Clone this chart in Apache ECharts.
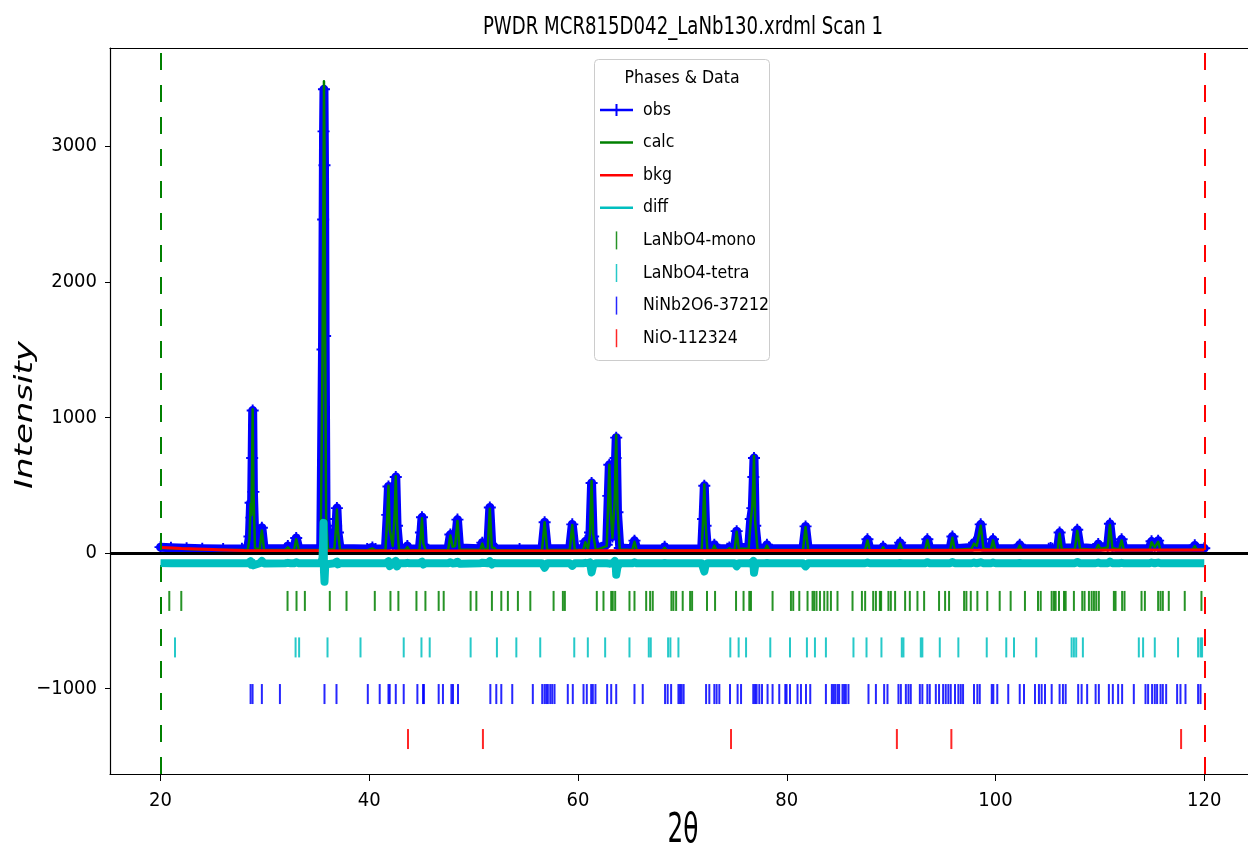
<!DOCTYPE html>
<html>
<head>
<meta charset="utf-8">
<script src="https://cdn.jsdelivr.net/npm/echarts@6/dist/echarts.min.js"></script>
<style>
  html, body { margin: 0; padding: 0; background: #fff; }
  #chart { width: 1248px; height: 850px; }
</style>
</head>
<body>
<div id="chart"></div>
<script>
// Powder pattern: 2-theta grid with observed, calculated and difference intensities
const twoTheta = [
  20.0, 21.0, 22.5, 24.0, 26.0, 27.8, 28.35, 28.52, 28.63, 28.71, 28.78, 28.83, 28.90, 29.05, 29.50, 29.71, 29.92,
  31.95, 32.20, 32.45, 32.80, 33.00, 33.25, 35.35, 35.52, 35.58, 35.62, 35.66, 35.71, 35.77, 35.86, 36.05,
  36.65, 36.82, 36.90, 37.00, 37.20,
  39.80, 40.30, 40.60, 41.55, 41.72, 41.84, 41.96, 42.25, 42.44, 42.54, 42.66, 42.85, 43.45, 43.65, 43.85,
  44.80, 44.95, 45.05, 45.18, 45.40, 47.55, 47.77, 47.98, 48.22, 48.45, 48.65, 50.62, 50.83, 51.02,
  51.35, 51.55, 51.74, 51.95, 52.15, 54.40, 56.55, 56.80, 57.05,
  59.20, 59.45, 59.70, 60.50, 60.70, 60.95, 61.15, 61.30, 61.45, 61.70, 62.75, 62.90, 63.00, 63.14, 63.30,
  63.52, 63.60, 63.66, 63.78, 64.00, 65.20, 65.41, 65.62, 68.10, 68.30, 68.50,
  71.85, 71.98, 72.10, 72.22, 72.40, 72.88, 73.06, 73.25, 74.30, 74.50, 74.70, 75.00, 75.20, 75.40,
  76.35, 76.55, 76.70, 76.80, 76.86, 76.98, 77.20, 77.90, 78.10, 78.30, 81.55, 81.80, 82.05,
  87.50, 87.73, 87.95, 89.05, 89.23, 89.40, 90.65, 90.86, 91.10, 93.25, 93.47, 93.70, 95.65, 95.87, 96.10,
  97.70, 97.94, 98.20, 98.58, 98.85, 99.55, 99.76, 100.00, 102.10, 102.32, 102.55, 105.10, 105.28, 105.45,
  105.95, 106.14, 106.35, 107.60, 107.83, 108.10, 109.60, 109.84, 110.05, 110.75, 110.96, 111.20,
  111.85, 112.08, 112.30, 114.75, 114.95, 115.25, 115.58, 115.80, 118.85, 119.09, 119.30, 120.00
];
const yObs = [
  42, 38, 33, 30, 28, 30, 34, 120, 370, 260, 700, 1050, 450, 45, 35, 185, 32,
  30, 50, 30, 32, 110, 30, 32, 1500, 2460, 3110, 3420, 2860, 1600, 250, 35,
  35, 200, 330, 150, 32,
  28, 40, 28, 30, 280, 490, 150, 60, 320, 560, 200, 30, 30, 50, 28,
  30, 150, 262, 60, 28, 30, 135, 50, 60, 245, 35, 30, 75, 30,
  40, 335, 45, 45, 30, 28, 30, 225, 30,
  30, 210, 30, 30, 85, 35, 150, 515, 120, 30, 60, 420, 650, 280, 120,
  420, 700, 850, 300, 35, 30, 90, 30, 28, 45, 28,
  30, 250, 495, 200, 30, 30, 60, 30, 30, 40, 30, 35, 160, 40,
  40, 250, 330, 560, 700, 200, 35, 30, 60, 30, 30, 195, 30,
  30, 100, 30, 28, 45, 28, 30, 75, 30, 30, 100, 30, 30, 120, 30,
  40, 75, 60, 210, 40, 30, 100, 30, 30, 60, 30, 30, 35, 30,
  30, 150, 35, 35, 170, 40, 30, 65, 40, 50, 215, 45,
  35, 100, 30, 30, 85, 50, 90, 30, 30, 55, 32, 34
];
const yCalc = [
  38, 34, 29, 25, 21, 20, 22, 100, 360, 280, 690, 1060, 470, 35, 25, 165, 22,
  20, 40, 20, 22, 100, 20, 22, 1450, 2300, 2810, 3480, 2990, 1640, 260, 25,
  25, 190, 320, 160, 22,
  18, 32, 18, 20, 260, 495, 170, 50, 300, 565, 215, 20, 20, 42, 18,
  20, 140, 255, 70, 18, 20, 128, 45, 50, 235, 25, 20, 68, 20,
  30, 325, 40, 38, 20, 18, 20, 225, 20,
  20, 205, 20, 20, 78, 25, 140, 530, 140, 20, 50, 400, 650, 300, 110,
  400, 690, 870, 330, 25, 20, 82, 20, 18, 38, 18,
  20, 240, 505, 215, 20, 20, 53, 20, 20, 35, 22, 25, 155, 30,
  30, 240, 345, 540, 715, 225, 25, 20, 53, 20, 20, 190, 20,
  20, 92, 20, 18, 40, 18, 20, 68, 20, 20, 94, 20, 20, 112, 20,
  30, 68, 50, 200, 30, 22, 92, 20, 20, 54, 20, 20, 30, 20,
  20, 140, 25, 25, 162, 30, 20, 58, 30, 40, 205, 35,
  25, 92, 20, 20, 78, 40, 82, 20, 20, 50, 22, 24
];
const yDiff = [
  -76, -77, -77, -77, -77, -77, -77, -72, -62, -88, -70, -58, -92, -80, -77, -60, -78,
  -77, -74, -77, -77, -70, -77, -77, -40, 80, 221, -137, -214, -110, -85, -77,
  -77, -70, -65, -85, -77,
  -77, -76, -77, -77, -80, -62, -98, -77, -68, -60, -100, -77, -77, -74, -77,
  -77, -70, -66, -86, -77, -77, -70, -78, -77, -66, -80, -77, -73, -77,
  -77, -62, -86, -75, -77, -77, -77, -110, -77,
  -77, -96, -77, -77, -74, -77, -70, -145, -92, -77, -77, -70, -80, -92, -77,
  -60, -80, -162, -105, -77, -77, -70, -77, -77, -75, -77,
  -77, -70, -138, -92, -77, -77, -74, -77, -77, -77, -77, -77, -100, -77,
  -77, -80, -77, -60, -147, -92, -77, -77, -75, -77, -77, -100, -77,
  -77, -72, -77, -77, -77, -77, -77, -75, -77, -77, -70, -77, -77, -68, -77,
  -77, -72, -77, -70, -77, -77, -72, -77, -77, -75, -77, -77, -77, -77,
  -77, -72, -77, -77, -68, -77, -77, -72, -77, -77, -65, -77,
  -77, -74, -77, -77, -72, -77, -72, -77, -77, -77, -77, -77
];

// Background curve
const bkgTheta = [20, 22, 25, 28, 35, 40, 60, 80, 100, 120];
const yBkg = [40, 32, 24, 18, 15, 14, 15, 17, 19, 20];

// Reflection positions (2-theta) for each phase
const phaseNames = ['LaNbO4-mono', 'LaNbO4-tetra', 'NiNb2O6-37212', 'NiO-112324'];
const monoRefl = [
  20.84, 21.99, 32.17, 33.03, 33.83, 36.22, 37.82, 40.53, 42.03, 42.79, 44.52, 45.38, 46.65, 47.13, 49.71,
  50.26, 51.75, 52.65, 53.28, 54.24, 55.43, 57.66, 58.55, 58.74, 61.80, 62.44, 63.18, 63.33, 63.56, 64.93,
  65.41, 66.53, 66.91, 67.16, 68.95, 69.14, 69.40, 70.03, 70.74, 70.93, 72.36, 73.13, 75.14, 75.86, 76.41,
  76.57, 78.64, 80.40, 80.62, 81.20, 81.99, 82.47, 82.63, 82.85, 83.18, 83.59, 83.90, 84.23, 84.86, 86.30,
  87.20, 87.51, 88.28, 88.54, 88.92, 89.04, 89.74, 89.97, 90.38, 91.34, 91.79, 92.52, 93.16, 94.59, 95.17,
  95.55, 96.99, 97.21, 97.63, 98.26, 99.21, 100.40, 101.45, 102.82, 104.07, 104.33, 105.38, 105.60, 105.76,
  106.08, 106.56, 106.72, 107.51, 108.31, 108.53, 108.95, 109.21, 109.43, 109.65, 109.90, 111.34, 111.50,
  112.13, 112.36, 113.99, 114.31, 115.58, 115.81, 116.03, 116.60, 118.13, 119.73
];
const tetraRefl = [
  21.39, 32.94, 33.28, 36.00, 39.16, 43.30, 45.00, 45.79, 49.71, 52.23, 54.09, 56.38, 59.64, 60.94, 62.60,
  64.93, 66.78, 66.97, 68.63, 68.85, 69.62, 74.59, 75.39, 76.10, 78.42, 80.31, 81.93, 82.70, 83.75, 86.39,
  87.64, 89.07, 91.02, 91.18, 92.84, 92.99, 94.66, 96.44, 99.16, 101.03, 101.77, 103.90, 107.29, 107.51,
  107.73, 108.37, 113.73, 114.14, 115.26, 117.49, 119.41, 119.64, 119.79
];
const ninbRefl = [
  28.63, 28.82, 29.71, 31.44, 35.71, 36.86, 39.86, 41.00, 41.84, 41.96, 42.54, 43.30, 44.61, 45.15, 45.24,
  46.65, 47.06, 47.87, 48.02, 48.50, 51.60, 52.17, 52.65, 53.70, 55.67, 56.57, 56.79, 56.96, 57.11, 57.34,
  57.53, 57.75, 59.02, 59.50, 60.53, 60.84, 61.26, 61.42, 61.67, 62.79, 63.18, 63.66, 65.41, 66.20, 68.34,
  68.59, 68.92, 69.62, 69.78, 69.93, 70.12, 72.27, 72.58, 73.06, 73.28, 73.54, 74.56, 75.29, 75.62, 76.79,
  76.96, 77.11, 77.37, 77.63, 78.16, 78.64, 79.28, 79.86, 79.98, 80.31, 81.03, 81.36, 81.84, 82.25, 83.75,
  84.32, 84.48, 84.64, 84.86, 85.02, 85.34, 85.50, 85.66, 85.91, 87.83, 88.54, 89.33, 89.65, 90.70, 90.93,
  91.41, 91.66, 91.88, 92.75, 92.99, 93.47, 93.70, 94.28, 94.59, 94.98, 95.23, 95.48, 95.71, 96.12, 96.44,
  96.67, 96.89, 97.94, 98.26, 98.49, 99.64, 99.79, 100.17, 101.22, 102.32, 102.73, 103.78, 104.16, 104.42,
  104.74, 105.38, 106.14, 106.46, 106.72, 107.92, 108.25, 108.78, 109.59, 109.90, 110.86, 111.24, 111.75,
  112.13, 113.25, 114.37, 114.62, 115.00, 115.26, 115.48, 115.81, 116.03, 116.35, 117.40, 117.72, 118.20,
  119.41, 119.64
];
const nioRefl = [43.71, 50.89, 74.66, 90.55, 95.77, 117.78];
const phaseRefl = [monoRefl, tetraRefl, ninbRefl, nioRefl];
// Intensity level at which each phase's tick row is drawn
const phaseRowLevel = [-355, -698, -1042, -1374];

// Excluded-region limits and axis ticks
const limitLines = [20, 120];
const xRange = [15.16, 124.19];
const yRange = [-1632, 3725];
const xTickValues = [20, 40, 60, 80, 100, 120];
const yTickValues = [-1000, 0, 1000, 2000, 3000];

const narrow = "'DejaVu Sans Condensed', 'Liberation Sans Narrow', 'DejaVu Sans', sans-serif";
const colors = { obs: '#0000ff', calc: '#008000', bkg: '#ff0000', diff: '#00bfbf' };
const phaseColors = ['#008000', '#00bfbf', '#0000ff', '#ff0000'];

const plusSymbol = 'path://M4.2,0H5.8V4.2H10V5.8H5.8V10H4.2V5.8H0V4.2H4.2Z';
const barIcon = 'path://M0,0M33,18M0,7.75H33V10.25H0Z';
const obsIcon = 'path://M0,0M33,18M0,7.75H33V10.25H0Z M15.5,3H17.5V15H15.5Z';
const tickIcon = 'path://M0,0M33,18M15.75,0H17.25V18H15.75Z';

const pairs = (xs, ys) => xs.map((x, i) => [x, ys[i]]);

const series = [
  {
    name: 'obs', type: 'line', data: pairs(twoTheta, yObs), z: 2,
    color: colors.obs,
    symbol: plusSymbol, symbolSize: 12, showSymbol: true,
    itemStyle: { color: colors.obs },
    lineStyle: { color: colors.obs, width: 9, join: 'round', cap: 'round' },
    animation: false, silent: true
  },
  {
    name: 'calc', type: 'line', data: pairs(twoTheta, yCalc), z: 3,
    color: colors.calc, symbol: 'none',
    lineStyle: { color: colors.calc, width: 2.5, join: 'round' },
    animation: false, silent: true
  },
  {
    name: 'bkg', type: 'line', data: pairs(bkgTheta, yBkg), z: 4,
    color: colors.bkg, symbol: 'none', smooth: 0.3,
    lineStyle: { color: colors.bkg, width: 3 },
    animation: false, silent: true,
    markLine: {
      silent: true, symbol: 'none', label: { show: false }, animation: false,
      lineStyle: { color: '#000', width: 3, type: 'solid' },
      data: [{ yAxis: 0 }]
    }
  },
  {
    name: 'diff', type: 'line', data: pairs(twoTheta, yDiff), z: 5,
    color: colors.diff, symbol: 'none',
    lineStyle: { color: colors.diff, width: 8, join: 'round' },
    animation: false, silent: true,
    markLine: {
      silent: true, symbol: 'none', label: { show: false }, animation: false,
      data: limitLines.map((x, i) => ({
        xAxis: x,
        lineStyle: { color: i === 0 ? '#008000' : '#ff0000', width: 2, type: [17, 15] }
      }))
    }
  }
];

phaseNames.forEach((name, i) => {
  series.push({
    name, type: 'scatter', z: 6,
    data: phaseRefl[i].map(t => [t, phaseRowLevel[i]]),
    symbol: 'rect', symbolSize: [2, 20],
    color: phaseColors[i],
    itemStyle: { color: phaseColors[i], opacity: 0.85 },
    animation: false, silent: true
  });
});

const chart = echarts.init(document.getElementById('chart'), null, { renderer: 'canvas' });

const option = {
  animation: false,
  backgroundColor: '#fff',
  textStyle: { fontFamily: narrow },
  grid: { left: 110, right: 0, top: 48, bottom: 76, containLabel: false },
  xAxis: [
    {
      type: 'value', min: xRange[0], max: xRange[1], position: 'bottom',
      axisLine: { show: true, onZero: false, lineStyle: { color: '#000', width: 1.2 } },
      axisTick: { show: true, length: 7, customValues: xTickValues, lineStyle: { color: '#000', width: 1 } },
      axisLabel: { customValues: xTickValues, margin: 17, fontSize: 20, fontFamily: narrow, color: '#000' },
      splitLine: { show: false }
    },
    {
      type: 'value', min: xRange[0], max: xRange[1], position: 'top',
      axisLine: { show: true, onZero: false, lineStyle: { color: '#000', width: 1.2 } },
      axisTick: { show: false }, axisLabel: { show: false }, splitLine: { show: false }
    }
  ],
  yAxis: {
    type: 'value', min: yRange[0], max: yRange[1],
    axisLine: { show: true, onZero: false, lineStyle: { color: '#000', width: 1.2 } },
    axisTick: { show: true, length: 5, customValues: yTickValues, lineStyle: { color: '#000', width: 1 } },
    axisLabel: {
      customValues: yTickValues, margin: 13, fontSize: 20, fontFamily: narrow, color: '#000',
      formatter: v => (v < 0 ? '\u2212' + Math.abs(v) : String(v))
    },
    splitLine: { show: false }
  },
  legend: {
    orient: 'vertical', left: 600, top: 101, padding: 0,
    itemWidth: 33, itemHeight: 18, itemGap: 14.6,
    selectedMode: false,
    itemStyle: { borderWidth: 0 },
    textStyle: { fontFamily: narrow, fontSize: 17.5, color: '#000', lineHeight: 18, padding: [0, 0, 0, 5] },
    data: [
      { name: 'obs', icon: obsIcon },
      { name: 'calc', icon: barIcon },
      { name: 'bkg', icon: barIcon },
      { name: 'diff', icon: barIcon },
      ...phaseNames.map(n => ({ name: n, icon: tickIcon }))
    ]
  },
  graphic: [
    {
      type: 'rect', z: 3, silent: true,
      shape: { x: 594.5, y: 59.5, width: 175, height: 301, r: 4 },
      style: { fill: 'rgba(255,255,255,0.8)', stroke: '#cccccc', lineWidth: 1 }
    },
    {
      type: 'text', z: 10, silent: true, x: 682, y: 78,
      style: { text: 'Phases & Data', fontFamily: narrow, fontSize: 17.5, fill: '#000', align: 'center', verticalAlign: 'middle' }
    },
    {
      type: 'text', z: 10, silent: true, x: 683, y: 28, scaleX: 0.84,
      style: { text: 'PWDR MCR815D042_LaNb130.xrdml Scan 1', fontFamily: narrow, fontSize: 24, fill: '#000', align: 'center', verticalAlign: 'middle' }
    },
    {
      type: 'text', z: 10, silent: true, x: 683, y: 832, scaleX: 0.62,
      style: { text: '2\u03b8', fontFamily: "'DejaVu Sans', sans-serif", fontSize: 40, fill: '#000', align: 'center', verticalAlign: 'middle' }
    },
    {
      type: 'text', z: 10, silent: true, x: 26, y: 415, rotation: Math.PI / 2, scaleY: 0.72,
      style: { text: 'Intensity', fontFamily: "'DejaVu Sans', sans-serif", fontStyle: 'italic', fontSize: 34, fill: '#000', align: 'center', verticalAlign: 'middle' }
    }
  ],
  series
};

chart.setOption(option);
</script>
</body>
</html>
